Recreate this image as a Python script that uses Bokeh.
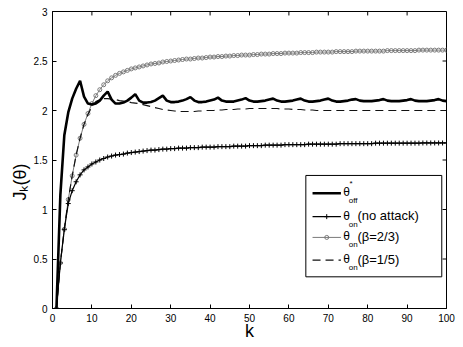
from bokeh.plotting import figure
from bokeh.models import Range1d, FixedTicker, Label, Title
from bokeh.embed import file_html
from bokeh.resources import INLINE

# ---------------- data ----------------
k = list(range(1, 101))

theta_off = [
    0.00, 1.15, 1.75, 1.98, 2.12, 2.22, 2.30,
    2.14, 2.07, 2.06, 2.07, 2.10, 2.15, 2.19,
    2.11, 2.07, 2.07, 2.08, 2.10, 2.13, 2.165,
    2.10, 2.08, 2.08, 2.085, 2.10, 2.125, 2.15,
    2.10, 2.085, 2.085, 2.09, 2.10, 2.115, 2.135,
    2.10, 2.085, 2.085, 2.09, 2.10, 2.11, 2.13,
    2.10, 2.09, 2.09, 2.09, 2.10, 2.11, 2.125,
    2.10, 2.09, 2.09, 2.095, 2.10, 2.11, 2.12,
    2.10, 2.09, 2.09, 2.095, 2.10, 2.11, 2.12,
    2.10, 2.09, 2.09, 2.095, 2.10, 2.11, 2.12,
    2.10, 2.09, 2.09, 2.095, 2.10, 2.11, 2.115,
    2.10, 2.095, 2.095, 2.095, 2.10, 2.105, 2.115,
    2.10, 2.095, 2.095, 2.095, 2.10, 2.105, 2.115,
    2.10, 2.095, 2.095, 2.095, 2.10, 2.105, 2.115,
    2.10, 2.095,
]

theta_on_noattack = [
    0.00, 0.46, 0.80, 1.06, 1.19, 1.28, 1.35, 1.40, 1.43, 1.46,
    1.48, 1.50, 1.515, 1.53, 1.54, 1.55, 1.555, 1.56, 1.57, 1.575,
    1.58, 1.585, 1.59, 1.595, 1.60, 1.60, 1.605, 1.61, 1.61, 1.615,
    1.615, 1.62, 1.62, 1.62, 1.625, 1.625, 1.625, 1.63, 1.63, 1.63,
    1.63, 1.635, 1.635, 1.635, 1.635, 1.64, 1.64, 1.64, 1.64, 1.645,
    1.645, 1.645, 1.645, 1.65, 1.65, 1.65, 1.65, 1.65, 1.655, 1.655,
    1.655, 1.655, 1.655, 1.655, 1.66, 1.66, 1.66, 1.66, 1.66, 1.66,
    1.66, 1.66, 1.665, 1.665, 1.665, 1.665, 1.665, 1.665, 1.665, 1.665,
    1.665, 1.67, 1.67, 1.67, 1.67, 1.67, 1.67, 1.67, 1.67, 1.67,
    1.67, 1.67, 1.67, 1.672, 1.672, 1.672, 1.672, 1.672, 1.672, 1.672,
]

theta_on_b23 = [
    0.00, 0.46, 0.80, 1.10, 1.34, 1.55, 1.72, 1.86, 1.97, 2.07,
    2.15, 2.21, 2.26, 2.30, 2.33, 2.355, 2.375, 2.39, 2.405, 2.42,
    2.43, 2.44, 2.45, 2.46, 2.47, 2.475, 2.48, 2.49, 2.495, 2.50,
    2.505, 2.51, 2.515, 2.52, 2.52, 2.525, 2.53, 2.53, 2.535, 2.54,
    2.54, 2.545, 2.545, 2.55, 2.55, 2.555, 2.555, 2.56, 2.56, 2.56,
    2.565, 2.565, 2.57, 2.57, 2.57, 2.575, 2.575, 2.575, 2.58, 2.58,
    2.58, 2.58, 2.585, 2.585, 2.585, 2.585, 2.59, 2.59, 2.59, 2.59,
    2.59, 2.595, 2.595, 2.595, 2.595, 2.595, 2.60, 2.60, 2.60, 2.60,
    2.60, 2.60, 2.60, 2.60, 2.605, 2.605, 2.605, 2.605, 2.605, 2.605,
    2.605, 2.605, 2.61, 2.61, 2.61, 2.61, 2.61, 2.61, 2.61, 2.61,
]

theta_on_b15 = [
    0.00, 0.46, 0.80, 1.10, 1.34, 1.55, 1.72, 1.86, 1.96, 2.04,
    2.09, 2.11, 2.12, 2.12, 2.115, 2.11, 2.10, 2.095, 2.09, 2.08,
    2.075, 2.07, 2.06, 2.05, 2.04, 2.03, 2.02, 2.01, 2.005, 2.00,
    1.995, 1.99, 1.99, 1.99, 1.99, 1.99, 1.995, 1.995, 2.00, 2.00,
    2.00, 2.005, 2.005, 2.01, 2.01, 2.01, 2.015, 2.015, 2.015, 2.02,
    2.02, 2.02, 2.02, 2.02, 2.02, 2.02, 2.02, 2.015, 2.015, 2.015,
    2.01, 2.01, 2.01, 2.005, 2.005, 2.005, 2.00, 2.00, 2.00, 2.00,
    2.00, 2.00, 2.00, 2.00, 2.00, 2.00, 2.00, 2.00, 2.00, 2.00,
    2.00, 2.00, 2.00, 2.00, 2.00, 2.00, 2.00, 2.00, 2.00, 2.00,
    2.00, 2.00, 2.00, 2.00, 2.00, 2.00, 2.00, 2.00, 2.00, 2.00,
]

x_ticks = [0, 10, 20, 30, 40, 50, 60, 70, 80, 90, 100]
x_tick_labels = ["0", "10", "20", "30", "40", "50", "60", "70", "80", "90", "100"]
y_ticks = [0, 0.5, 1, 1.5, 2, 2.5, 3]
y_tick_labels = ["0", "0.5", "1", "1.5", "2", "2.5", "3"]

legend_labels = ["(no attack)", "(\u03b2=2/3)", "(\u03b2=1/5)"]

FONT = "Liberation Sans"
X0, X1, Y0, Y1 = 0, 100, 0, 3

# ---------------- figure ----------------
p = figure(width=463, height=347, output_backend="svg", toolbar_location=None,
           x_range=Range1d(X0, X1), y_range=Range1d(Y0, Y1),
           min_border_left=52, min_border_right=17, min_border_top=11,
           min_border_bottom=39)
p.grid.visible = False
p.outline_line_color = "black"
p.background_fill_color = "white"
p.border_fill_color = "white"


def style_axis(ax, ticks, labels):
    ax.ticker = FixedTicker(ticks=ticks)
    ax.major_label_overrides = {t: l for t, l in zip(ticks, labels)}
    ax.major_tick_in = 4
    ax.major_tick_out = 0
    ax.minor_tick_line_color = None
    ax.axis_line_color = "black"
    ax.major_tick_line_color = "black"
    ax.major_label_text_font = FONT
    ax.major_label_text_color = "black"
    ax.major_label_text_font_size = "10px"
    ax.major_label_standoff = 5
    ax.axis_label_text_font = FONT
    ax.axis_label_text_font_style = "normal"
    ax.axis_label_text_color = "black"
    ax.axis_label_text_font_size = "18px"


style_axis(p.xaxis[0], x_ticks, x_tick_labels)
style_axis(p.yaxis[0], y_ticks, y_tick_labels)
p.xaxis[0].axis_label = "k"
p.xaxis[0].axis_label_standoff = -4

# y title as a left-side Title so that it can be offset along the axis
ytitle = Title(text="J\u2096(\u03b8)", align="left", offset=108,
               text_font=FONT, text_font_size="18px", text_font_style="normal",
               text_color="black", standoff=2)
p.add_layout(ytitle, "left")

# inward ticks on the top and right edges of the box (no labels)
tick_dy = 0.04
tick_dx = 1.0
p.segment(x0=x_ticks, y0=[Y1] * len(x_ticks), x1=x_ticks,
          y1=[Y1 - tick_dy] * len(x_ticks), line_color="black", line_width=1)
p.segment(x0=[X1] * len(y_ticks), y0=y_ticks, x1=[X1 - tick_dx] * len(y_ticks),
          y1=y_ticks, line_color="black", line_width=1)

# ---------------- series ----------------
p.line(k, theta_on_b23, line_color="#7a7a7a", line_width=1)
p.scatter(k, theta_on_b23, marker="circle", size=4, fill_color=None,
          line_color="#7a7a7a", line_width=1)

p.line(k, theta_on_b15, line_color="#111111", line_width=1.2, line_dash="8 5")

p.line(k, theta_on_noattack, line_color="black", line_width=1.2)
p.scatter(k, theta_on_noattack, marker="cross", size=5, line_color="black",
          line_width=1)

p.line(k, theta_off, line_color="black", line_width=2.6)

# ---------------- legend (drawn by hand for sub/superscripts) ----------------
p.quad(left=[64.3], right=[98.8], bottom=[0.32], top=[1.344],
       fill_color="white", line_color="black", line_width=1)

row_y = [1.164, 0.928, 0.718, 0.489]
lx0, lx1, lmid = 66.0, 73.2, 69.6

p.line([lx0, lx1], [row_y[0]] * 2, line_color="black", line_width=2.6)
p.line([lx0, lx1], [row_y[1]] * 2, line_color="black", line_width=1.2)
p.scatter([lmid], [row_y[1]], marker="cross", size=5, line_color="black")
p.line([lx0, lx1], [row_y[2]] * 2, line_color="#7a7a7a", line_width=1)
p.scatter([lmid], [row_y[2]], marker="circle", size=4, fill_color=None,
          line_color="#7a7a7a")
p.line([lx0, lx1], [row_y[3]] * 2, line_color="#111111", line_width=1.2,
       line_dash="8 5")

subs = ["off", "on", "on", "on"]
for i, yy in enumerate(row_y):
    p.add_layout(Label(x=73.8, y=yy + 0.01, text="\u03b8", text_font=FONT,
                       text_font_size="12px", text_baseline="middle",
                       text_align="left", text_color="black"))
    p.add_layout(Label(x=75.2, y=yy - 0.075, text=subs[i], text_font=FONT,
                       text_font_size="8px", text_baseline="middle",
                       text_align="left", text_color="black"))
p.add_layout(Label(x=75.4, y=row_y[0] + 0.095, text="*", text_font=FONT,
                   text_font_size="8px", text_baseline="middle",
                   text_align="left", text_color="black"))
for i, txt in enumerate(legend_labels):
    p.add_layout(Label(x=77.4, y=row_y[i + 1] + 0.01, text=txt, text_font=FONT,
                       text_font_size="13px", text_baseline="middle",
                       text_align="left", text_color="black"))

open("out.html", "w").write(file_html(p, INLINE))
